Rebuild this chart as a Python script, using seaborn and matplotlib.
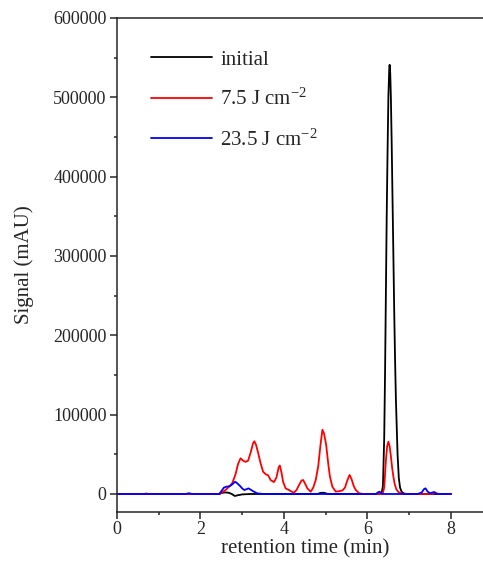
import numpy as np
import pandas as pd
import seaborn as sns
import matplotlib.pyplot as plt
from matplotlib.ticker import MultipleLocator

# chromatograms (time in min, signal in mAU)
t_initial = [0, 2.45, 2.52, 2.60, 2.68, 2.75, 2.82, 2.90, 3.00, 3.20, 4.80, 4.88, 4.96, 5.05,
             6.30, 6.34, 6.37, 6.40, 6.42, 6.44, 6.46, 6.48, 6.50, 6.52, 6.53, 6.545, 6.56,
             6.58, 6.60, 6.62, 6.64, 6.66, 6.68, 6.70, 6.72, 6.75, 6.78, 6.82, 6.88, 6.95, 8.0]
s_initial = [0, 0, 1500, 2000, 1500, 0, -2500, -1500, -500, 0, 0, 1500, 1500, 0,
             0, 2000, 10000, 70000, 150000, 250000, 350000, 430000, 500000, 535000, 541000, 530000, 500000,
             440000, 370000, 300000, 230000, 170000, 120000, 85000, 50000, 20000, 8000, 2500, 500, 0, 0]

t_low = [0, 0.65, 0.70, 0.75, 2.45, 2.52, 2.60, 2.68, 2.76, 2.84, 2.90, 2.96, 3.02, 3.08, 3.14,
         3.20, 3.26, 3.29, 3.33, 3.38, 3.44, 3.50, 3.56, 3.62, 3.68, 3.76, 3.82, 3.87, 3.90,
         3.94, 3.98, 4.04, 4.12, 4.18, 4.24, 4.30, 4.36, 4.42, 4.46, 4.51, 4.56, 4.64, 4.70,
         4.76, 4.82, 4.87, 4.92, 4.96, 5.01, 5.06, 5.10, 5.16, 5.24, 5.32, 5.40, 5.46, 5.52,
         5.57, 5.62, 5.67, 5.72, 5.80, 5.90, 6.36, 6.40, 6.42, 6.44, 6.47, 6.50, 6.53, 6.56,
         6.59, 6.62, 6.65, 6.69, 6.74, 6.80, 6.90, 7.55, 7.62, 7.70, 8.0]
s_low = [0, 0, 700, 0, 0, 2000, 5000, 9000, 13500, 25000, 38000, 45000, 42000, 40500, 42000,
         52000, 64000, 66500, 62000, 52000, 38700, 28000, 25000, 23500, 17600, 15000, 21000, 33000, 36000,
         27000, 15000, 7000, 5000, 3000, 1700, 5000, 11300, 17000, 17600, 12500, 7000, 2900, 8000,
         17600, 35000, 60000, 81000, 76000, 62000, 38000, 22000, 9000, 3000, 3500, 4500, 8000, 17600,
         24000, 18500, 10000, 5000, 900, 0, 0, 8000, 25000, 42000, 60000, 66000, 60000, 48000,
         33000, 22000, 13000, 6000, 2500, 1000, 0, 0, 1500, 0, 0]

t_high = [0, 1.65, 1.72, 1.80, 2.45, 2.52, 2.56, 2.62, 2.70, 2.77, 2.83, 2.88, 2.94, 3.00, 3.05,
          3.10, 3.15, 3.20, 3.26, 3.36, 3.50, 6.20, 6.25, 6.29, 6.34, 6.40, 7.20, 7.30, 7.35,
          7.39, 7.44, 7.50, 7.56, 7.60, 7.65, 7.70, 8.0]
s_high = [0, 0, 1000, 0, 0, 5000, 8000, 9200, 9800, 12500, 15500, 13500, 10500, 7000, 5000,
          6000, 7100, 5500, 3500, 800, 0, 0, 2000, 2900, 500, 0, 0, 2000, 6000,
          7100, 3000, 1000, 2000, 2500, 500, 0, 0]

labels = ['initial', '7.5 J cm$^{-2}$', '23.5 J cm$^{-2}$']
colors = ['black', 'red', 'blue']

df = pd.concat([
    pd.DataFrame({'time': t_initial, 'signal': s_initial, 'sample': labels[0]}),
    pd.DataFrame({'time': t_low, 'signal': s_low, 'sample': labels[1]}),
    pd.DataFrame({'time': t_high, 'signal': s_high, 'sample': labels[2]}),
])

sns.set_style('ticks')
plt.rcParams['font.family'] = ['Liberation Serif', 'DejaVu Serif']
plt.rcParams['mathtext.fontset'] = 'custom'
plt.rcParams['mathtext.rm'] = 'Liberation Serif'
plt.rcParams['mathtext.it'] = 'Liberation Serif:italic'

fig = plt.figure(figsize=(4.83, 5.66), dpi=100)
ax = fig.add_axes([0.2422, 0.0954, 0.778, 0.8728])

sns.lineplot(data=df, x='time', y='signal', hue='sample', palette=dict(zip(labels, colors)),
             estimator=None, sort=False, linewidth=1.3, ax=ax)

ax.set_xlim(0, 9)
ax.set_ylim(-22700, 600000)
ax.xaxis.set_major_locator(MultipleLocator(2))
ax.xaxis.set_minor_locator(MultipleLocator(1))
ax.yaxis.set_major_locator(MultipleLocator(100000))
ax.yaxis.set_minor_locator(MultipleLocator(50000))
ax.tick_params(which='major', direction='out', length=5, width=1.1, labelsize=13)
ax.tick_params(which='minor', direction='out', length=2.5, width=1.1)
ax.tick_params(axis='x', which='major', pad=1.5)
ax.tick_params(axis='y', which='major', pad=2.5)
for sp in ax.spines.values():
    sp.set_linewidth(1.1)

ax.set_xlabel('retention time (min)', fontsize=15, labelpad=1)
ax.set_ylabel('Signal (mAU)', fontsize=15, labelpad=14)

ax.legend(loc='upper left', bbox_to_anchor=(0.04, 0.973), frameon=False, fontsize=15,
          handlelength=2.93, handletextpad=0.4, labelspacing=0.92)

fig.savefig('out.png', dpi=100)
